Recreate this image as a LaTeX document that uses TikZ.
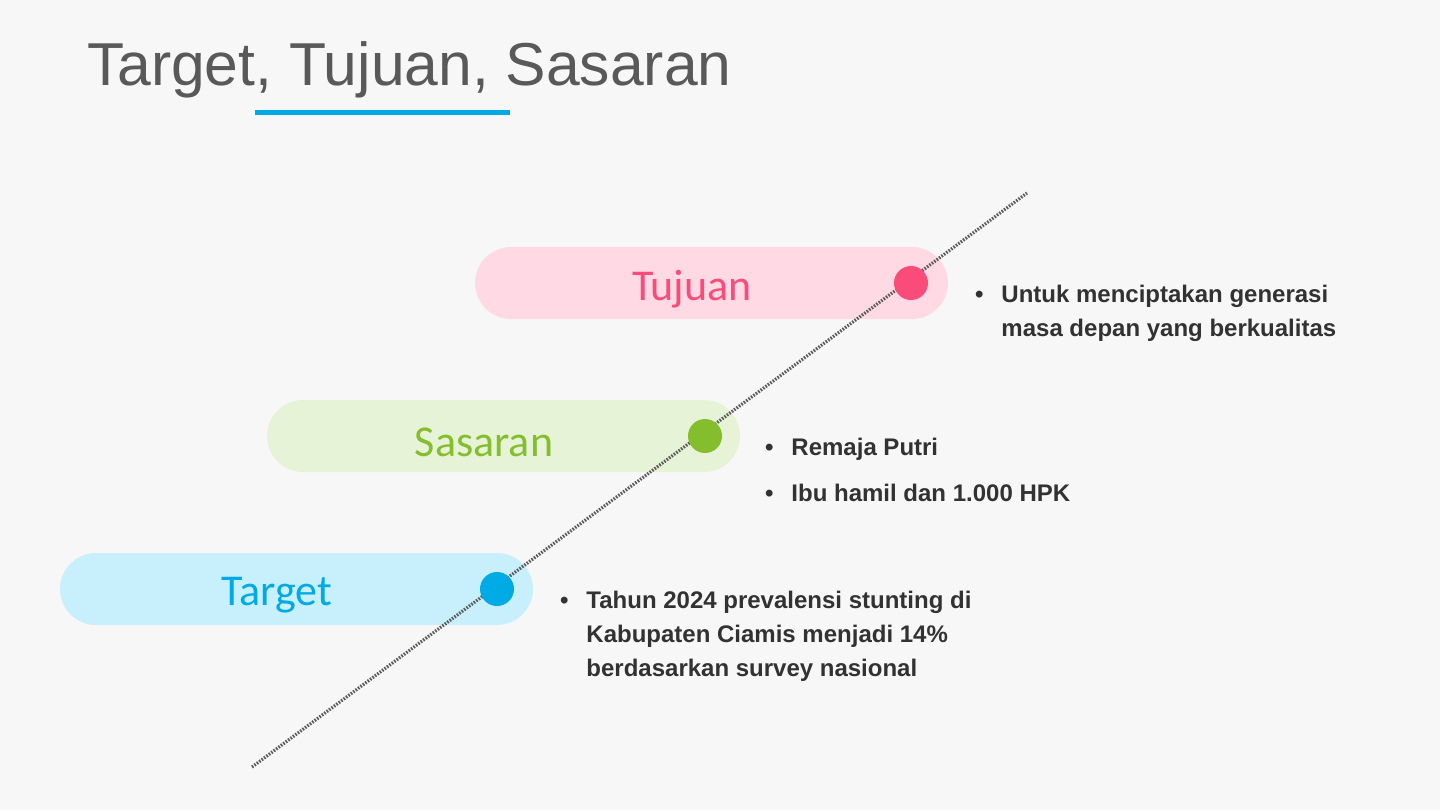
\documentclass[tikz,border=0pt]{standalone}
\usepackage{fontspec}
\setmainfont{Liberation Sans}
\newfontfamily\pillfont{Carlito}
\usetikzlibrary{positioning}
\definecolor{ttBack}{RGB}{247,247,247}
\definecolor{ttGray}{RGB}{89,89,89}
\definecolor{ttText}{RGB}{50,50,50}
\definecolor{ttPink}{RGB}{250,76,123}
\definecolor{ttPinkL}{RGB}{255,218,228}
\definecolor{ttGreen}{RGB}{132,190,44}
\definecolor{ttGreenL}{RGB}{230,243,214}
\definecolor{ttBlue}{RGB}{0,170,228}
\definecolor{ttBlueL}{RGB}{200,239,252}
\tikzset{
    pill/.style={rounded corners=18pt, minimum width=236.5pt, minimum height=36pt, inner sep=0pt},
    pilltext/.style={font=\pillfont\fontsize{22}{26}\selectfont},
    dot/.style={circle, inner sep=0pt, minimum size=17pt},
    note/.style={font=\bfseries\fontsize{12}{17}\selectfont, text=ttText, align=left, anchor=north west},
    track/.style={ttGray, line width=1.6pt, dash pattern=on 0.8pt off 0.7pt}
}
\begin{document}
\begin{tikzpicture}[x=0.5pt, y=-0.5pt]
  \fill[ttBack] (0,0) rectangle (1440,810);
  \useasboundingbox (0,0) rectangle (1440,810);
  % title
  \node[anchor=west, text=ttGray, font=\fontsize{30.3}{36}\selectfont] (title) at (80,70) {Target, Tujuan, Sasaran};
  \draw[ttBlue, line width=2.5pt] (255,112) -- (510,112);
  % pills
  \node[pill, fill=ttPinkL] (tujuan) at (711.5,283) {};
  \node[pill, fill=ttGreenL] (sasaran) at (503.5,436) {};
  \node[pill, fill=ttBlueL] (target) at (296.5,589) {};
  \node[pilltext, text=ttPink] (tujuanT) at (692,289) {Tujuan};
  \node[pilltext, text=ttGreen] (sasaranT) at (484,442) {Sasaran};
  \node[pilltext, text=ttBlue] (targetT) at (277,595) {Target};
  % track
  \coordinate (low) at (252,767);
  \coordinate (high) at (1027,193);
  \draw[track] (low) -- (high);
  \node[dot, fill=ttPink] (d1) at (911,283) {};
  \node[dot, fill=ttGreen] (d2) at (705,436) {};
  \node[dot, fill=ttBlue] (d3) at (497,589) {};
  % notes
  \node[note] (n1) at (968,278) {\textbullet\hspace{0.75em}Untuk menciptakan generasi\\\hspace{1.1em}masa depan yang berkualitas};
  \node[note] (n2) at (758,431) {\textbullet\hspace{0.75em}Remaja Putri\\[6pt]\textbullet\hspace{0.75em}Ibu hamil dan 1.000 HPK};
  \node[note] (n3) at (553,584) {\textbullet\hspace{0.75em}Tahun 2024 prevalensi stunting di\\\hspace{1.1em}Kabupaten Ciamis menjadi 14\%\\\hspace{1.1em}berdasarkan survey nasional};
\end{tikzpicture}
\end{document}
